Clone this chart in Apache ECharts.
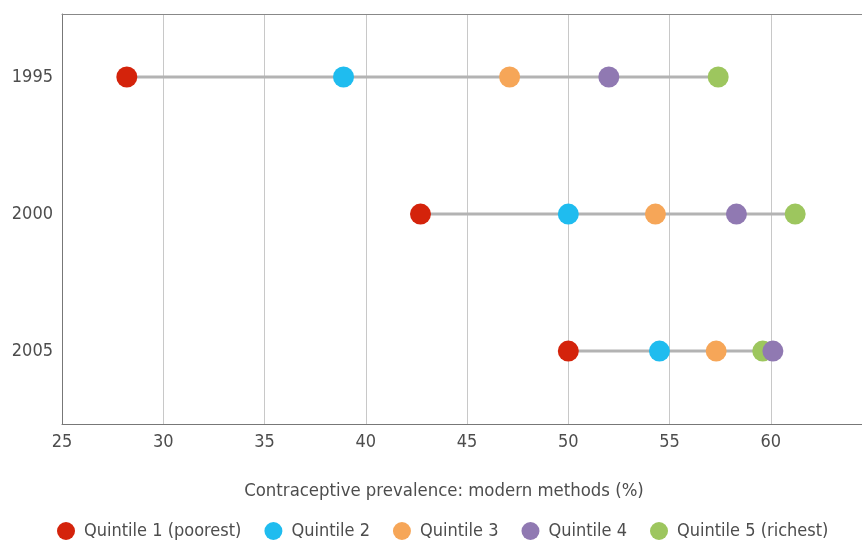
<!DOCTYPE html>
<html>
<head>
<meta charset="utf-8">
<script src="https://cdn.jsdelivr.net/npm/echarts@6/dist/echarts.min.js"></script>
<style>
  html, body { margin: 0; padding: 0; background: #fff; }
  #chart { width: 862px; height: 543px; }
</style>
</head>
<body>
<div id="chart"></div>
<script>
// data
var years = [1995, 2000, 2005]
var quintile1 = [28.2, 42.7, 50.0]
var quintile2 = [38.9, 50.0, 54.5]
var quintile3 = [47.1, 54.3, 57.3]
var quintile4 = [52.0, 58.3, 60.1]
var quintile5 = [57.4, 61.2, 59.6]
var xTicks = [25, 30, 35, 40, 45, 50, 55, 60]

var names = ['Quintile 1 (poorest)', 'Quintile 2', 'Quintile 3', 'Quintile 4', 'Quintile 5 (richest)']
var colors = ['#d4230b', '#1fbcef', '#f6a658', '#9079b2', '#9dc65e']
var groups = [quintile1, quintile2, quintile3, quintile4, quintile5]
var font = '"Liberation Sans Narrow", "DejaVu Sans Condensed", sans-serif'
var textColor = '#4d4d4d'

var myChart = echarts.init(document.getElementById('chart'))

var series = []
// grey range line per year, from lowest to highest quintile
years.forEach(function (y, i) {
  var vals = groups.map(function (g) { return g[i] })
  series.push({
    type: 'line',
    data: [[Math.min.apply(null, vals), y], [Math.max.apply(null, vals), y]],
    symbol: 'none',
    silent: true,
    lineStyle: { color: '#b3b3b3', width: 3 },
    z: 1
  })
})
// dots
groups.forEach(function (g, k) {
  series.push({
    name: names[k],
    type: 'scatter',
    data: g.map(function (v, i) { return [v, years[i]] }),
    symbol: 'circle',
    symbolSize: 21,
    itemStyle: { color: colors[k], opacity: 1 },
    z: k === 3 ? 4 : 3
  })
})

var option = {
  animation: false,
  textStyle: { fontFamily: font },
  grid: { left: 62, right: 0, top: 14, bottom: 119, containLabel: false },
  legend: {
    data: names,
    left: 57,
    top: 522,
    padding: 0,
    icon: 'circle',
    itemWidth: 18,
    itemHeight: 18,
    itemGap: 23,
    textStyle: { fontFamily: font, fontSize: 18, color: textColor, padding: [0, 0, 0, 4] }
  },
  graphic: [{
    type: 'text',
    x: 444,
    y: 491,
    style: {
      text: 'Contraceptive prevalence: modern methods (%)',
      align: 'center',
      verticalAlign: 'middle',
      font: '18.4px ' + font,
      fill: textColor
    }
  }],
  xAxis: [{
    type: 'value',
    min: 25,
    max: 64.5,
    interval: 5,
    axisLine: { show: true, lineStyle: { color: '#777', width: 1 } },
    axisTick: { show: false },
    axisLabel: {
      customValues: xTicks,
      color: textColor, fontSize: 18, fontFamily: font, margin: 9
    },
    splitLine: { show: true, lineStyle: { color: '#c8c8c8', width: 1 } }
  }, {
    type: 'value',
    position: 'top',
    min: 25,
    max: 64.5,
    axisLine: { show: true, lineStyle: { color: '#888', width: 1 } },
    axisTick: { show: false },
    axisLabel: { show: false },
    splitLine: { show: false }
  }],
  yAxis: {
    type: 'value',
    inverse: true,
    min: 1992.7,
    max: 2007.66,
    axisLine: { show: true, lineStyle: { color: '#777', width: 1 } },
    axisTick: { show: false },
    splitLine: { show: false },
    axisLabel: {
      customValues: years,
      formatter: function (v) { return String(v) },
      color: textColor, fontSize: 18, fontFamily: font, margin: 9
    }
  },
  series: series
}
myChart.setOption(option)
</script>
</body>
</html>
